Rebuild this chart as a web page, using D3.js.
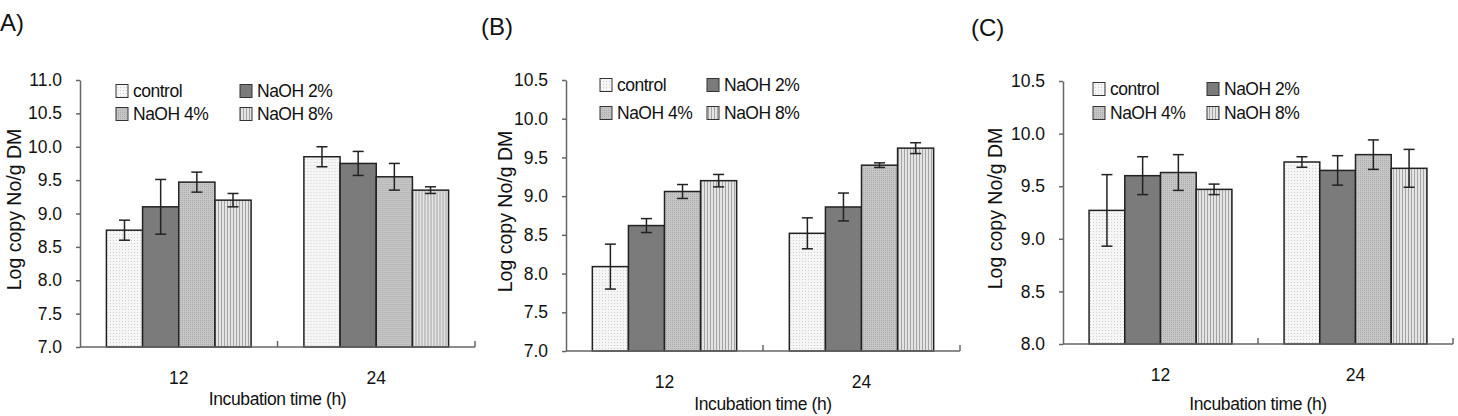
<!DOCTYPE html>
<html>
<head>
<meta charset="utf-8">
<script src="https://cdn.jsdelivr.net/npm/d3@7"></script>
<style>
  body { margin: 0; background: #fff; }
  svg { font-family: "Liberation Sans", Arial, sans-serif; }
</style>
</head>
<body>
<svg id="chart" width="1458" height="416"></svg>
<script>
// categories and series
const times = ["12", "24"];
const treatments = ["control", "NaOH 2%", "NaOH 4%", "NaOH 8%"];

// panel A
const meanA = [[8.75, 9.10, 9.47, 9.20], [9.85, 9.75, 9.55, 9.35]];
const errA = [[0.15, 0.41, 0.15, 0.10], [0.15, 0.18, 0.20, 0.05]];
const ticksA = [7.0, 7.5, 8.0, 8.5, 9.0, 9.5, 10.0, 10.5, 11.0];

// panel B
const meanB = [[8.09, 8.62, 9.06, 9.20], [8.52, 8.86, 9.40, 9.62]];
const errB = [[0.29, 0.09, 0.09, 0.08], [0.20, 0.18, 0.03, 0.07]];
const ticksB = [7.0, 7.5, 8.0, 8.5, 9.0, 9.5, 10.0, 10.5];

// panel C
const meanC = [[9.27, 9.60, 9.63, 9.47], [9.73, 9.65, 9.80, 9.67]];
const errC = [[0.34, 0.18, 0.17, 0.05], [0.05, 0.14, 0.14, 0.18]];
const ticksC = [8.0, 8.5, 9.0, 9.5, 10.0, 10.5];

const svg = d3.select("#chart");
const defs = svg.append("defs");

// fill patterns for the four treatments
const dots = defs.append("pattern").attr("id", "pat0")
    .attr("width", 3).attr("height", 3).attr("patternUnits", "userSpaceOnUse");
dots.append("rect").attr("width", 3).attr("height", 3).attr("fill", "#f6f6f6");
dots.append("rect").attr("width", 1).attr("height", 1).attr("fill", "#cfcfcf");

const dots4 = defs.append("pattern").attr("id", "pat2")
    .attr("width", 2).attr("height", 2).attr("patternUnits", "userSpaceOnUse");
dots4.append("rect").attr("width", 2).attr("height", 2).attr("fill", "#c6c6c6");
dots4.append("rect").attr("width", 1).attr("height", 1).attr("fill", "#acacac");

const stripes = defs.append("pattern").attr("id", "pat3")
    .attr("width", 3).attr("height", 3).attr("patternUnits", "userSpaceOnUse");
stripes.append("rect").attr("width", 3).attr("height", 3).attr("fill", "#e4e4e4");
stripes.append("rect").attr("width", 1).attr("height", 3).attr("fill", "#a4a4a4");

const fills = ["url(#pat0)", "#7b7b7b", "url(#pat2)", "url(#pat3)"];
const ink = "#111";

function drawPanel(cfg) {
    const g = svg.append("g");

    const x0 = d3.scaleBand().domain(times).range([cfg.left, cfg.right]);
    const x1 = d3.scaleBand().domain(treatments)
        .range([0, x0.bandwidth()]).paddingOuter(0.73);
    const y = d3.scaleLinear().domain(cfg.domain).range([cfg.bottom, cfg.top]);

    // panel letter
    g.append("text").attr("x", cfg.letterX).attr("y", cfg.letterY)
        .attr("font-size", 24).attr("fill", ink).text(cfg.letter);

    // bars
    cfg.mean.forEach((vals, i) => {
        const grp = g.append("g").attr("transform", `translate(${x0(times[i])},0)`);
        grp.selectAll("rect").data(vals).join("rect")
            .attr("x", (d, j) => x1(treatments[j]))
            .attr("y", d => y(d))
            .attr("width", x1.bandwidth())
            .attr("height", d => y(cfg.domain[0]) - y(d))
            .attr("fill", (d, j) => fills[j])
            .attr("stroke", "#222").attr("stroke-width", 1.5);

        // error bars
        vals.forEach((v, j) => {
            const cx = x1(treatments[j]) + x1.bandwidth() / 2;
            const e = cfg.err[i][j];
            const eb = grp.append("g").attr("stroke", "#222").attr("stroke-width", 1.5);
            eb.append("line").attr("x1", cx).attr("x2", cx).attr("y1", y(v + e)).attr("y2", y(v - e));
            eb.append("line").attr("x1", cx - 5.5).attr("x2", cx + 5.5).attr("y1", y(v + e)).attr("y2", y(v + e));
            eb.append("line").attr("x1", cx - 5.5).attr("x2", cx + 5.5).attr("y1", y(v - e)).attr("y2", y(v - e));
        });
    });

    // y axis
    const yAxis = g.append("g").attr("transform", `translate(${cfg.left},0)`)
        .call(d3.axisLeft(y).tickValues(cfg.ticks).tickFormat(d3.format(".1f"))
            .tickSizeInner(4).tickSizeOuter(0).tickPadding(14));
    yAxis.select(".domain").attr("stroke", "#666").attr("stroke-width", 1.5);
    yAxis.selectAll(".tick line").attr("stroke", "#666").attr("stroke-width", 1.5);
    yAxis.selectAll(".tick text").attr("font-size", 17.5).attr("fill", ink)
        .attr("font-family", "Liberation Sans, Arial, sans-serif");

    // x axis line + inward ticks between groups
    const xAxis = g.append("g");
    xAxis.append("line").attr("x1", cfg.left).attr("x2", cfg.right)
        .attr("y1", cfg.bottom).attr("y2", cfg.bottom)
        .attr("stroke", "#666").attr("stroke-width", 1.5);
    xAxis.selectAll("line.tk").data(times).join("line").attr("class", "tk")
        .attr("x1", d => x0(d) + x0.bandwidth()).attr("x2", d => x0(d) + x0.bandwidth())
        .attr("y1", cfg.bottom).attr("y2", cfg.bottom - 6)
        .attr("stroke", "#666").attr("stroke-width", 1.5);
    xAxis.selectAll("text").data(times).join("text")
        .attr("x", d => x0(d) + x0.bandwidth() / 2)
        .attr("y", cfg.bottom + 37)
        .attr("text-anchor", "middle").attr("font-size", 17.5).attr("fill", ink)
        .text(d => d);

    // axis titles
    g.append("text")
        .attr("x", (cfg.left + cfg.right) / 2).attr("y", cfg.bottom + cfg.titleDy)
        .attr("text-anchor", "middle").attr("font-size", 17.5).attr("fill", ink)
        .attr("letter-spacing", -0.4)
        .text("Incubation time (h)");
    g.append("text")
        .attr("transform", `translate(${cfg.left - cfg.yTitleDx},${(cfg.top + cfg.bottom) / 2 - 4}) rotate(-90)`)
        .attr("dy", "0.35em")
        .attr("text-anchor", "middle").attr("font-size", 19.5).attr("fill", ink)
        .text("Log copy No/g DM");

    // legend
    const leg = g.append("g");
    treatments.forEach((t, j) => {
        const lx = cfg.left + (j % 2 === 0 ? cfg.leg1 : cfg.leg2);
        const ly = j < 2 ? cfg.row1 : cfg.row2;
        leg.append("rect").attr("x", lx).attr("y", ly - 6.5)
            .attr("width", 12).attr("height", 13)
            .attr("fill", fills[j]).attr("stroke", "#333").attr("stroke-width", 1);
        leg.append("text").attr("x", lx + 17).attr("y", ly).attr("dy", "0.35em")
            .attr("font-size", 17.5).attr("fill", ink).attr("letter-spacing", -0.5)
            .text(t);
    });
}

drawPanel({
    letter: "A)", letterX: 0, letterY: 31,
    left: 80, right: 475, top: 80, bottom: 347, domain: [7, 11], ticks: ticksA,
    mean: meanA, err: errA, titleDy: 58, yTitleDx: 66,
    leg1: 36, leg2: 160, row1: 91, row2: 114
});
drawPanel({
    letter: "(B)", letterX: 481, letterY: 35,
    left: 566, right: 960, top: 80, bottom: 351, domain: [7, 10.5], ticks: ticksB,
    mean: meanB, err: errB, titleDy: 59, yTitleDx: 61,
    leg1: 34, leg2: 141, row1: 85, row2: 113
});
drawPanel({
    letter: "(C)", letterX: 971, letterY: 36,
    left: 1063, right: 1453, top: 81, bottom: 344, domain: [8, 10.5], ticks: ticksC,
    mean: meanC, err: errC, titleDy: 66, yTitleDx: 68,
    leg1: 30, leg2: 144, row1: 89, row2: 113
});
</script>
</body>
</html>
